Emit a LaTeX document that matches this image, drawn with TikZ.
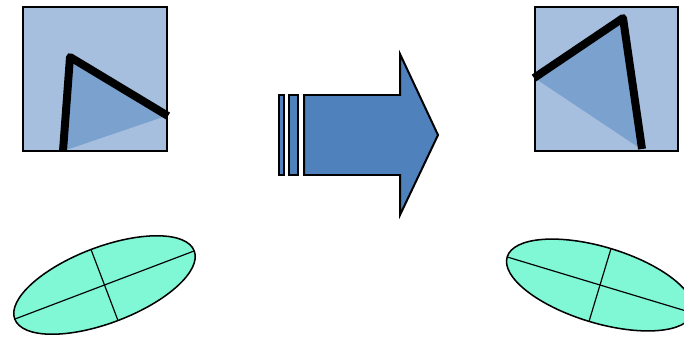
\documentclass[tikz,border=0pt]{standalone}
\usetikzlibrary{positioning}
\definecolor{panelblue}{RGB}{167,191,222}
\definecolor{wedgeblue}{RGB}{123,161,206}
\definecolor{arrowblue}{RGB}{79,129,189}
\definecolor{blobgreen}{RGB}{128,247,213}
\tikzset{
  panel/.style={fill=panelblue,draw=black,line width=1.6pt},
  wedge/.style={fill=wedgeblue},
  bentbar/.style={line width=6.8pt,line join=round},
  bigarrow/.style={fill=arrowblue,draw=black,line width=1.7pt,line join=miter},
  blob/.style={fill=blobgreen,draw=black,line width=1.3pt},
  blobaxis/.style={line width=1pt}
}
\begin{document}
\begin{tikzpicture}[x=0.03cm,y=-0.03cm]
  \useasboundingbox (0,0) rectangle (684,336);
  \clip (0,0) rectangle (684,336);
  % left panel
  \begin{scope}
    \draw[panel] (23,7) rectangle (167,151);
    \fill[wedge] (66,150) -- (70,58) -- (166,116) -- cycle;
    \draw[panel,fill=none] (23,7) rectangle (167,151);
    \coordinate (lfoot) at (63,151);
    \coordinate (lknee) at (70,57);
    \coordinate (ltip) at (168,116);
    \draw[bentbar] (lfoot) -- (lknee) -- (ltip);
  \end{scope}
  % right panel
  \begin{scope}
    \draw[panel] (535,7) rectangle (678,151);
    \fill[wedge] (536,79) -- (623,19) -- (641,149) -- cycle;
    \draw[panel,fill=none] (535,7) rectangle (678,151);
    \coordinate (rtip) at (534,78);
    \coordinate (rknee) at (623,18);
    \coordinate (rfoot) at (642,149);
    \draw[bentbar] (rtip) -- (rknee) -- (rfoot);
  \end{scope}
  % arrow
  \draw[bigarrow] (279,95) rectangle (284,175);
  \draw[bigarrow] (289,95) rectangle (298,175);
  \draw[bigarrow] (304,95) -- (400,95) -- (400,54) -- (438,135) -- (400,215) -- (400,175) -- (304,175) -- cycle;
  % ellipses
  \begin{scope}[shift={(104.5,285)},rotate=20.8]
    \draw[blob] (0,0) ellipse [x radius=96,y radius=38];
    \draw[blobaxis] (-96,0) -- (96,0);
    \draw[blobaxis] (0,-38) -- (0,38);
  \end{scope}
  \begin{scope}[shift={(600,285)},rotate=-16.8]
    \draw[blob] (0,0) ellipse [x radius=97,y radius=38];
    \draw[blobaxis] (-97,0) -- (97,0);
    \draw[blobaxis] (0,-38) -- (0,38);
  \end{scope}
\end{tikzpicture}
\end{document}
